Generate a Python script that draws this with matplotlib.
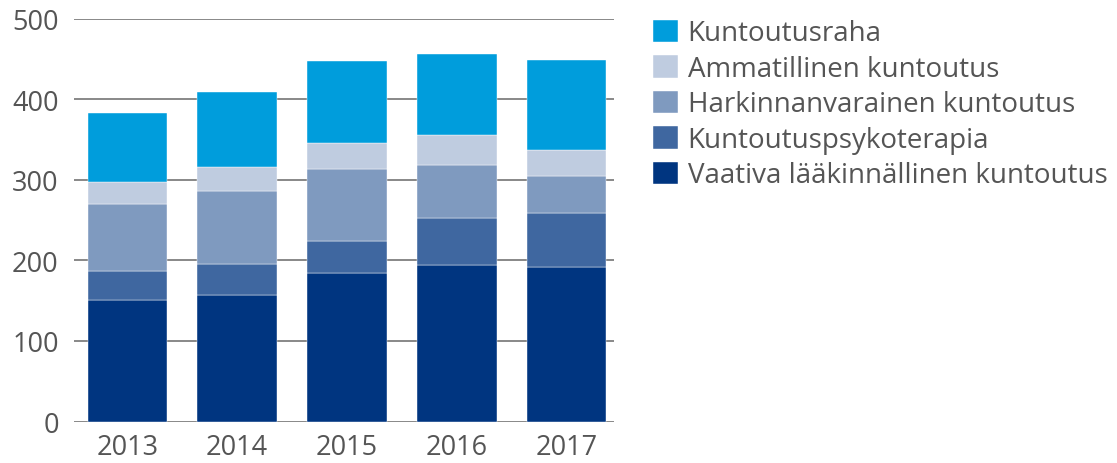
import matplotlib
matplotlib.use("Agg")
import matplotlib.pyplot as plt
import numpy as np

years = ["2013", "2014", "2015", "2016", "2017"]
# stacked from bottom to top
vaativa       = [150.9, 157.1, 184.5, 194.4, 192.3]
psykoterapia  = [36.4, 38.6, 40.1, 58.4, 67.1]
harkinnan     = [82.5, 90.3, 88.7, 65.5, 45.9]
ammatillinen  = [27.3, 30.5, 33.0, 37.6, 31.6]
kuntoutusraha = [85.8, 92.4, 101.1, 100.6, 111.8]

series = [
    ("Vaativa lääkinnällinen kuntoutus", vaativa, "#003580"),
    ("Kuntoutuspsykoterapia", psykoterapia, "#3f67a0"),
    ("Harkinnanvarainen kuntoutus", harkinnan, "#7f9abf"),
    ("Ammatillinen kuntoutus", ammatillinen, "#bfcce0"),
    ("Kuntoutusraha", kuntoutusraha, "#009ddc"),
]

plt.rcParams["font.family"] = ["Open Sans", "DejaVu Sans"]
TXT = "#555555"
FS = 19.5

fig = plt.figure(figsize=(11.17, 4.64), dpi=100)
ax = fig.add_axes([0.0662, 0.0894, 0.4835, 0.8679])

x = np.arange(len(years))
bottom = np.zeros(len(years))
handles = []
for label, vals, col in series:
    b = ax.bar(x, vals, width=0.725, bottom=bottom, color=col, label=label,
               edgecolor="white", linewidth=0.3, zorder=3)
    handles.append(b)
    bottom += np.array(vals)

ax.set_ylim(0, 500)
ax.set_xlim(-0.487, 4.433)
ax.set_yticks(range(0, 501, 100))
ax.set_xticks(x)
ax.set_xticklabels(years)
ax.grid(axis="y", color="#888888", linewidth=1.4, zorder=0)
ax.tick_params(axis="both", length=0, labelsize=FS, colors=TXT)
ax.tick_params(axis="x", pad=8)
ax.tick_params(axis="y", pad=11)
for s in ax.spines.values():
    s.set_visible(False)

leg = fig.legend(handles[::-1], [s[0] for s in series][::-1],
                 loc="upper left", bbox_to_anchor=(0.585, 0.956),
                 frameon=False, fontsize=20, handlelength=0.87, handleheight=0.87,
                 handletextpad=0.36, labelspacing=0.27, borderaxespad=0,
                 borderpad=0)
for t in leg.get_texts():
    t.set_color(TXT)

fig.savefig("out.png", dpi=100)
